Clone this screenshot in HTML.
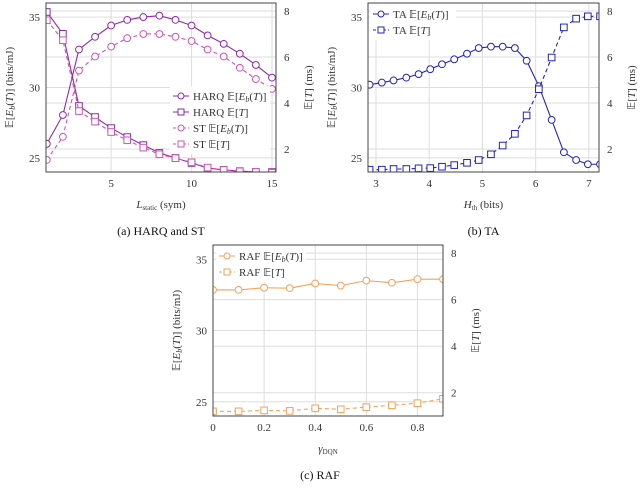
<!DOCTYPE html>
<html><head><meta charset="utf-8"><style>
body{margin:0;background:#fff;width:640px;height:485px;overflow:hidden}
svg{font-family:"Liberation Serif",serif}
</style></head><body>
<svg id="s" width="640" height="485"></svg>
<script>
// Panel (a) data
const aX=[1,2,3,4,5,6,7,8,9,10,11,12,13,14,15];
const harqEb=[26.0,28.05,32.7,33.6,34.4,34.8,35.0,35.1,34.8,34.4,33.7,33.1,32.4,31.6,30.7];
const harqT=[7.96,7.01,3.87,3.39,2.91,2.52,2.17,1.83,1.61,1.39,1.17,1.09,1.04,1.0,1.0];
const stEb=[24.86,26.5,31.2,32.2,32.9,33.5,33.8,33.8,33.6,33.3,32.7,32.2,31.4,30.6,29.9];
const stT=[7.6,6.73,3.65,3.19,2.74,2.38,2.06,1.77,1.6,1.42,1.19,1.09,1.03,1.0,0.97];
// Panel (b) data
const bX=[2.88,3.11,3.33,3.57,3.8,4.02,4.24,4.47,4.71,4.93,5.16,5.38,5.61,5.83,6.06,6.3,6.53,6.76,6.98,7.21];
const taEb=[30.2,30.35,30.5,30.7,30.95,31.3,31.65,32.0,32.4,32.8,32.9,32.9,32.8,31.9,30.1,27.7,25.4,24.85,24.55,24.55];
const taT=[1.1,1.1,1.13,1.13,1.16,1.17,1.23,1.3,1.4,1.52,1.77,2.15,2.66,3.46,4.6,5.98,7.29,7.67,7.77,7.77];
// Panel (c) data
const cX=[0,0.1,0.2,0.3,0.4,0.5,0.6,0.7,0.8,0.9];
const rafEb=[32.85,32.85,33.0,32.97,33.3,33.15,33.5,33.35,33.6,33.6];
const rafT=[1.2,1.2,1.24,1.22,1.33,1.29,1.38,1.46,1.55,1.74];
const aTicks=[5,10,15], bTicks=[3,4,5,6,7], cTicks=[0,0.2,0.4,0.6,0.8];
const lTicks=[25,30,35], rTicks=[2,4,6,8];

const NS='http://www.w3.org/2000/svg';
const svg=document.getElementById('s');
function el(t,a,p){const e=document.createElementNS(NS,t);for(const k in a)e.setAttribute(k,a[k]);(p||svg).appendChild(e);return e;}
function txt(s,x,y,a,p){const e=el('text',Object.assign({x:x,y:y,'font-size':11,fill:'#333','text-anchor':'middle'},a||{}),p);e.textContent=s;return e;}

function panel(id,cfg){
  const g=el('g',{});
  
  
  const {x0,x1,y0,y1,xmin,xmax}=cfg;
  const sx=v=>x0+(v-xmin)/(xmax-xmin)*(x1-x0);
  const syL=v=>y1-(v-24.0)/(36.0-24.0)*(y1-y0);
  const syR=v=>y1-(v-1.0)/(8.35-1.0)*(y1-y0);
  const clipId='c'+id;
  const cp=el('clipPath',{id:clipId},g);el('rect',{x:x0,y:y0,width:x1-x0,height:y1-y0},cp);
  cfg.xt.forEach(v=>{el('line',{x1:sx(v),x2:sx(v),y1:y0,y2:y1,stroke:'#ddd','stroke-width':1},g);
    const t=txt(String(v),sx(v),y1+15,{},g);});
  lTicks.forEach(v=>{el('line',{x1:x0,x2:x1,y1:syL(v),y2:syL(v),stroke:'#ddd'},g);
    const t=txt(String(v),x0-6,syL(v)+4,{'text-anchor':'end'},g);});
  rTicks.forEach(v=>{el('line',{x1:x0,x2:x1,y1:syR(v),y2:syR(v),stroke:'#ddd'},g);
    const t=txt(String(v),x1+8,syR(v)+4,{'text-anchor':'start'},g);});
  const pg=el('g',{'clip-path':'url(#'+clipId+')'},g);
  cfg.series.forEach(s=>{
    const sy=s.axis==='L'?syL:syR;
    const sg=el('g',{},pg);
    
    
    el('polyline',{points:s.xs.map((x,i)=>sx(x)+','+sy(s.ys[i])).join(' '),fill:'none',stroke:s.c,'stroke-width':1.1,'stroke-dasharray':s.dash?'4,3':'none'},sg);
    s.xs.forEach((x,i)=>{
      if(s.m==='o'){const m=el('circle',{cx:sx(x),cy:sy(s.ys[i]),r:3.4,fill:'#fff',stroke:s.c,'stroke-width':1},sg);}
      else{const m=el('rect',{x:sx(x)-3.3,y:sy(s.ys[i])-3.3,width:6.6,height:6.6,fill:'#fff',stroke:s.c,'stroke-width':1},sg);}
    });
  });
  el('rect',{x:x0,y:y0,width:x1-x0,height:y1-y0,fill:'none',stroke:'#444','stroke-width':1},g);
  const yl=txt('',0,0,{transform:`translate(${x0-33},${(y0+y1)/2}) rotate(-90)`,'font-size':11},g);
  
  yl.innerHTML='𝔼[<tspan font-style="italic">E</tspan><tspan font-size="8" dy="2" font-style="italic">b</tspan><tspan dy="-2">(</tspan><tspan font-style="italic">T</tspan>)] (bits/mJ)';
  const yr=txt('',0,0,{transform:`translate(${x1+36},${(y0+y1)/2}) rotate(-90)`},g);
  
  yr.innerHTML='𝔼[<tspan font-style="italic">T</tspan>] (ms)';
  const xl=txt('',(x0+x1)/2,y1+36,{},g);
  xl.innerHTML=cfg.xlab;
  const cap=txt(cfg.cap,(x0+x1)/2+cfg.capdx,y1+63,{fill:'#111','font-size':12},g);
  const L=cfg.leg;
  const lg=el('g',{},g);
  el('rect',{x:L.x,y:L.y,width:L.w,height:cfg.series.length*16+4,fill:'#fff'},lg);
  cfg.series.forEach((s,i)=>{
    const yy=L.y+10+i*16;
    const eg=el('g',{},lg);
    el('line',{x1:L.x+3,x2:L.x+19,y1:yy,y2:yy,stroke:s.c,'stroke-dasharray':s.dash?'3,2':'none'},eg);
    if(s.m==='o')el('circle',{cx:L.x+11,cy:yy,r:3,fill:'#fff',stroke:s.c},eg);
    else el('rect',{x:L.x+8,y:yy-3,width:6,height:6,fill:'#fff',stroke:s.c},eg);
    const t=txt('',L.x+23,yy+4,{'text-anchor':'start','font-size':11},eg);t.innerHTML=s.label;
  });
}
const EB='𝔼[<tspan font-style="italic">E</tspan><tspan font-size="8" dy="2" font-style="italic">b</tspan><tspan dy="-2">(</tspan><tspan font-style="italic">T</tspan>)]';
const ET='𝔼[<tspan font-style="italic">T</tspan>]';
const P='#8e2aaa',M='#cc55b8',B='#2323c0',O='#f5a15a';
panel('panel-a',{x0:46,x1:276,y0:3,y1:172,xmin:0.95,xmax:15.25,xt:aTicks,
  xlab:'<tspan font-style="italic">L</tspan><tspan font-size="7" dy="2">static</tspan><tspan dy="-2"> (sym)</tspan>',cap:'(a) HARQ and ST',capdx:0,
  leg:{x:170,y:86,w:100},
  series:[{name:'harq-eb-line',xs:aX,ys:harqEb,axis:'L',m:'o',c:P,label:'HARQ '+EB},
          {name:'harq-t-line',xs:aX,ys:harqT,axis:'R',m:'s',c:P,label:'HARQ '+ET},
          {name:'st-eb-line',xs:aX,ys:stEb,axis:'L',m:'o',c:M,dash:1,label:'ST '+EB},
          {name:'st-t-line',xs:aX,ys:stT,axis:'R',m:'s',c:M,dash:1,label:'ST '+ET}]});
panel('panel-b',{x0:368,x1:599,y0:3,y1:172,xmin:2.85,xmax:7.19,xt:bTicks,
  xlab:'<tspan font-style="italic">H</tspan><tspan font-size="7" dy="2">th</tspan><tspan dy="-2"> (bits)</tspan>',cap:'(b) TA',capdx:0,
  leg:{x:370,y:4,w:86},
  series:[{name:'ta-eb-line',xs:bX,ys:taEb,axis:'L',m:'o',c:B,label:'TA '+EB},
          {name:'ta-t-line',xs:bX,ys:taT,axis:'R',m:'s',c:B,dash:1,label:'TA '+ET}]});
panel('panel-c',{x0:213,x1:443,y0:245,y1:416,xmin:0,xmax:0.9,xt:cTicks,
  xlab:'<tspan font-style="italic">γ</tspan><tspan font-size="7" dy="2">DQN</tspan>',cap:'(c) RAF',capdx:-8,
  leg:{x:216,y:246,w:90},
  series:[{name:'raf-eb-line',xs:cX,ys:rafEb,axis:'L',m:'o',c:O,label:'RAF '+EB},
          {name:'raf-t-line',xs:cX,ys:rafT,axis:'R',m:'s',c:O,dash:1,label:'RAF '+ET}]});
</script>
</body></html>
